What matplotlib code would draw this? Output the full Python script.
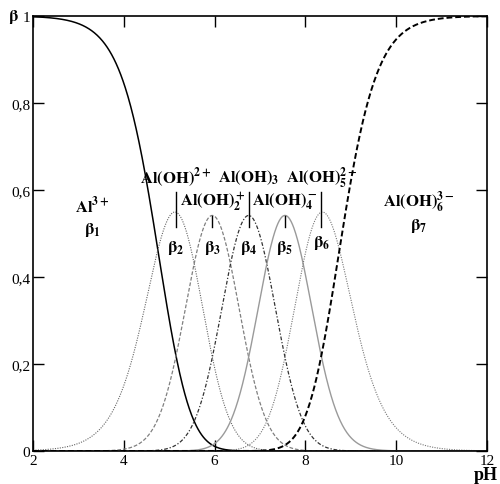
import numpy as np
import matplotlib
matplotlib.use('Agg')
import matplotlib.pyplot as plt

# stepwise hydrolysis constants Al(OH)n -> Al(OH)n+1 (pK, in pH units)
STEP_PK = [4.75, 5.55, 6.35, 7.15, 7.95, 8.75]

SPECIES = [r'Al^{3+}', r'Al(OH)^{2+}', r'Al(OH)_2^+', r'Al(OH)_3',
           r'Al(OH)_4^-', r'Al(OH)_5^{2-}', r'Al(OH)_6^{3-}']

# label anchors: x (pH), y of species name, y of beta
NAME_X = [3.3, 5.15, 5.95, 6.75, 7.55, 8.35, 10.5]
NAME_Y = [0.565, 0.63, 0.575, 0.63, 0.575, 0.63, 0.575]
BETA_Y = [0.51, 0.47, 0.47, 0.47, 0.47, 0.48, 0.52]

X_TICKS = [2, 4, 6, 8, 10, 12]
Y_TICKS = [0, 0.2, 0.4, 0.6, 0.8, 1]
Y_LABELS = ['0', '0,2', '0,4', '0,6', '0,8', '1']

STYLES = [
    dict(color='black', lw=1.1, ls='-'),
    dict(color='#666666', lw=0.8, ls=(0, (1, 1.2))),
    dict(color='#808080', lw=0.9, ls=(0, (3, 1.5))),
    dict(color='#333333', lw=0.9, ls=(0, (3, 1.5, 1, 1.5))),
    dict(color='#9a9a9a', lw=1.0, ls='-'),
    dict(color='#777777', lw=0.8, ls=(0, (1, 1.2))),
    dict(color='black', lw=1.4, ls=(0, (3, 1.5))),
]

plt.rcParams['font.family'] = 'Liberation Serif'
plt.rcParams['mathtext.fontset'] = 'stix'

ph = np.linspace(2, 12, 1000)
# cumulative log-stability for each species
logk = np.concatenate([[0], np.cumsum(-np.array(STEP_PK))])
n = np.arange(len(logk))
terms = 10.0 ** (logk[:, None] + n[:, None] * ph[None, :])
frac = terms / terms.sum(axis=0)

fig = plt.figure(figsize=(5, 4.85), dpi=100)
ax = fig.add_axes([0.066, 0.068, 0.908, 0.897])

for i in range(len(SPECIES)):
    ax.plot(ph, frac[i], **STYLES[i])

ax.set_xlim(2, 12)
ax.set_ylim(0, 1)
ax.set_xticks(X_TICKS)
ax.set_xticklabels([str(t) for t in X_TICKS])
ax.set_yticks(Y_TICKS)
ax.set_yticklabels(Y_LABELS)
ax.tick_params(direction='in', length=8, width=1, top=True, right=True,
               labelsize=11, pad=2)
for s in ax.spines.values():
    s.set_linewidth(1.2)

for i, name in enumerate(SPECIES):
    x = NAME_X[i]
    ax.text(x, NAME_Y[i], r'$\mathbf{%s}$' % name, ha='center', va='center',
            fontsize=12)
    ax.text(x, BETA_Y[i], r'$\mathbf{\beta_{%d}}$' % (i + 1), ha='center',
            va='center', fontsize=12)
    if 0 < i < 6:
        top = NAME_Y[i] - 0.035
        ax.plot([x, x], [top, 0.515], color='black', lw=1)

ax.text(-0.055, 1.0, r'$\mathbf{\beta}$', transform=ax.transAxes,
        ha='left', va='center', fontsize=12)
fig.text(0.996, 0.011, 'pH', ha='right', va='baseline',
         fontsize=13, fontweight='bold')

fig.savefig('out.png', dpi=100)
